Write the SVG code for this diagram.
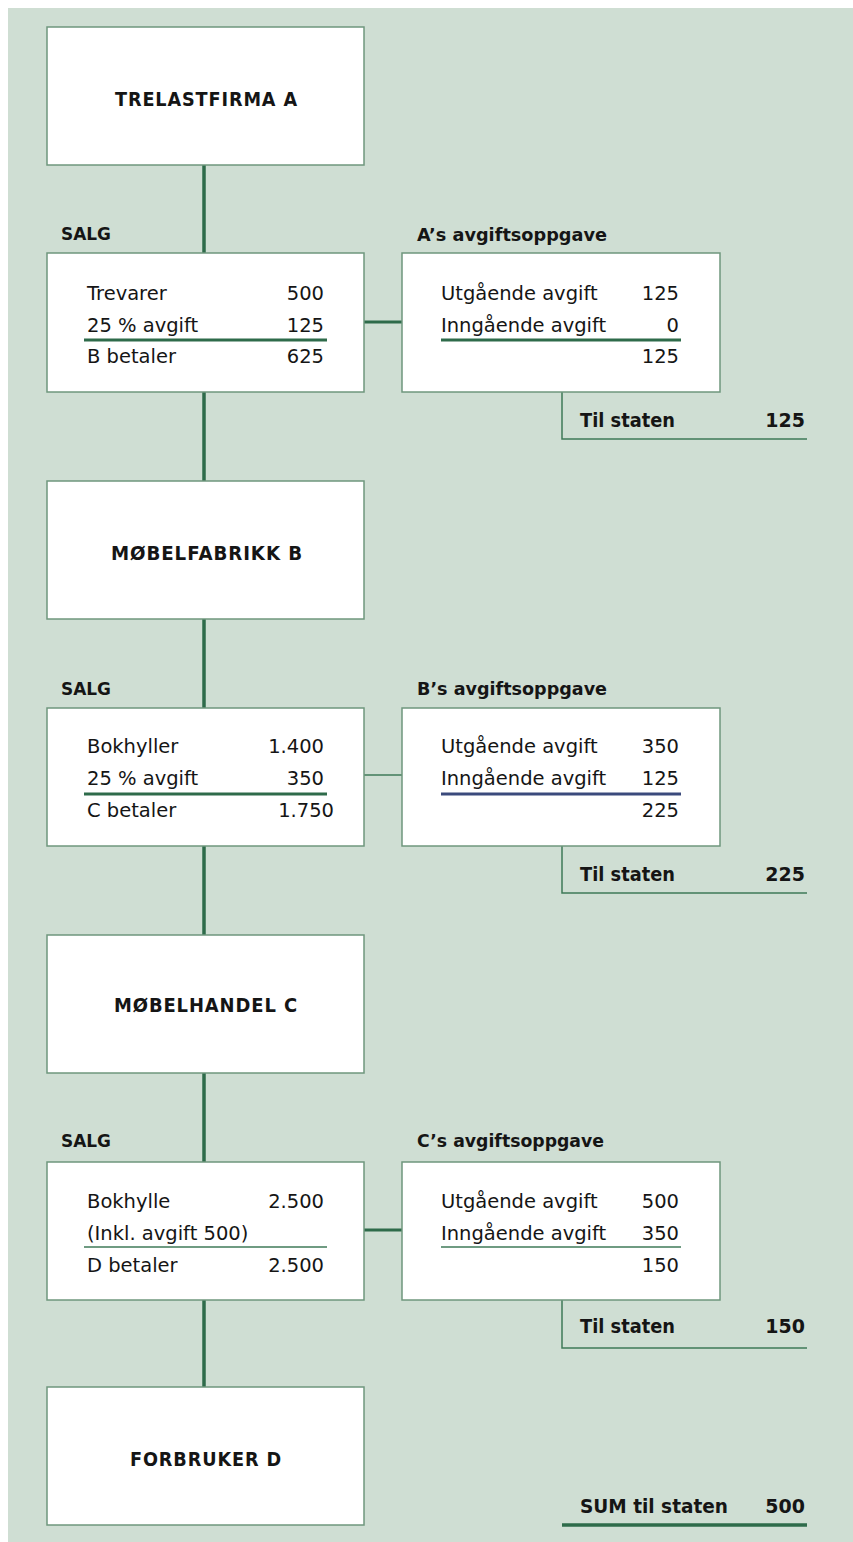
<svg xmlns="http://www.w3.org/2000/svg" width="853" height="1542" viewBox="0 0 853 1542">
<style>
.bg{fill:#cfded3}
.box{fill:#ffffff;stroke:#6f977d;stroke-width:1.5}
.title{font-family:"DejaVu Sans",sans-serif;font-weight:bold;font-size:20px;letter-spacing:1px;fill:#151515}
.head{font-family:"DejaVu Sans",sans-serif;font-weight:bold;font-size:18.5px;fill:#151515}
.body{font-family:"DejaVu Sans",sans-serif;font-size:19.5px;fill:#151515}
.num{font-family:"DejaVu Sans",sans-serif;font-size:19.5px;fill:#151515;text-anchor:end}
.sum{font-family:"DejaVu Sans",sans-serif;font-weight:bold;font-size:19px;fill:#151515}
.sumn{font-family:"DejaVu Sans",sans-serif;font-weight:bold;font-size:19px;fill:#151515;text-anchor:end}
.conn{stroke:#2e6b4a;stroke-width:3.5;fill:none}
.thick{stroke:#2e6b4a;stroke-width:3;fill:none}
.thin{stroke:#3f7a58;stroke-width:1.5;fill:none}
.navy{stroke:#3b4a7c;stroke-width:3;fill:none}
</style>
<rect class="bg" x="8" y="8" width="845" height="1534"/>

<g id="connectors">
<line class="conn" x1="204" y1="165" x2="204" y2="253"/>
<line class="conn" x1="204" y1="392" x2="204" y2="481"/>
<line class="conn" x1="204" y1="619" x2="204" y2="708"/>
<line class="conn" x1="204" y1="846" x2="204" y2="935"/>
<line class="conn" x1="204" y1="1073" x2="204" y2="1162"/>
<line class="conn" x1="204" y1="1300" x2="204" y2="1387"/>
<line class="thick" x1="364" y1="322" x2="402" y2="322"/>
<line class="thin" x1="364" y1="775" x2="402" y2="775"/>
<line class="thick" x1="364" y1="1230" x2="402" y2="1230"/>
<polyline class="thin" points="562,392 562,439 807,439"/>
<polyline class="thin" points="562,846 562,893 807,893"/>
<polyline class="thin" points="562,1300 562,1348 807,1348"/>
</g>

<g id="firma-a">
<rect class="box" x="47" y="27" width="317" height="138"/>
<text class="title" x="115" y="106" textLength="183" lengthAdjust="spacingAndGlyphs">TRELASTFIRMA A</text>
</g>

<g id="salg-a">
<text class="head" x="61" y="240" textLength="50" lengthAdjust="spacingAndGlyphs">SALG</text>
<rect class="box" x="47" y="253" width="317" height="139"/>
<text class="body" x="87" y="300">Trevarer</text>
<text class="num" x="324" y="300">500</text>
<text class="body" x="87" y="332">25 % avgift</text>
<text class="num" x="324" y="332">125</text>
<line class="thick" x1="84" y1="340" x2="327" y2="340"/>
<text class="body" x="87" y="363">B betaler</text>
<text class="num" x="324" y="363">625</text>
</g>

<g id="oppgave-a">
<text class="head" x="417" y="241" textLength="190" lengthAdjust="spacingAndGlyphs">A’s avgiftsoppgave</text>
<rect class="box" x="402" y="253" width="318" height="139"/>
<text class="body" x="441" y="300">Utgående avgift</text>
<text class="num" x="679" y="300">125</text>
<text class="body" x="441" y="332">Inngående avgift</text>
<text class="num" x="679" y="332">0</text>
<line class="thick" x1="441" y1="340" x2="681" y2="340"/>
<text class="num" x="679" y="363">125</text>
<text class="sum" x="580" y="427" textLength="95" lengthAdjust="spacingAndGlyphs">Til staten</text>
<text class="sumn" x="805" y="427">125</text>
</g>

<g id="firma-b">
<rect class="box" x="47" y="481" width="317" height="138"/>
<text class="title" x="111" y="560" textLength="192" lengthAdjust="spacingAndGlyphs">MØBELFABRIKK B</text>
</g>

<g id="salg-b">
<text class="head" x="61" y="695" textLength="50" lengthAdjust="spacingAndGlyphs">SALG</text>
<rect class="box" x="47" y="708" width="317" height="138"/>
<text class="body" x="87" y="753">Bokhyller</text>
<text class="num" x="324" y="753">1.400</text>
<text class="body" x="87" y="785">25 % avgift</text>
<text class="num" x="324" y="785">350</text>
<line class="thick" x1="84" y1="794" x2="327" y2="794"/>
<text class="body" x="87" y="817">C betaler</text>
<text class="num" x="334" y="817">1.750</text>
</g>

<g id="oppgave-b">
<text class="head" x="417" y="695" textLength="190" lengthAdjust="spacingAndGlyphs">B’s avgiftsoppgave</text>
<rect class="box" x="402" y="708" width="318" height="138"/>
<text class="body" x="441" y="753">Utgående avgift</text>
<text class="num" x="679" y="753">350</text>
<text class="body" x="441" y="785">Inngående avgift</text>
<text class="num" x="679" y="785">125</text>
<line class="navy" x1="441" y1="794" x2="681" y2="794"/>
<text class="num" x="679" y="817">225</text>
<text class="sum" x="580" y="881" textLength="95" lengthAdjust="spacingAndGlyphs">Til staten</text>
<text class="sumn" x="805" y="881">225</text>
</g>

<g id="handel-c">
<rect class="box" x="47" y="935" width="317" height="138"/>
<text class="title" x="114" y="1012" textLength="184" lengthAdjust="spacingAndGlyphs">MØBELHANDEL C</text>
</g>

<g id="salg-c">
<text class="head" x="61" y="1147" textLength="50" lengthAdjust="spacingAndGlyphs">SALG</text>
<rect class="box" x="47" y="1162" width="317" height="138"/>
<text class="body" x="87" y="1208">Bokhylle</text>
<text class="num" x="324" y="1208">2.500</text>
<text class="body" x="87" y="1240">(Inkl. avgift 500)</text>
<line class="thin" x1="84" y1="1247" x2="327" y2="1247"/>
<text class="body" x="87" y="1272">D betaler</text>
<text class="num" x="324" y="1272">2.500</text>
</g>

<g id="oppgave-c">
<text class="head" x="417" y="1147" textLength="187" lengthAdjust="spacingAndGlyphs">C’s avgiftsoppgave</text>
<rect class="box" x="402" y="1162" width="318" height="138"/>
<text class="body" x="441" y="1208">Utgående avgift</text>
<text class="num" x="679" y="1208">500</text>
<text class="body" x="441" y="1240">Inngående avgift</text>
<text class="num" x="679" y="1240">350</text>
<line class="thin" x1="441" y1="1247" x2="681" y2="1247"/>
<text class="num" x="679" y="1272">150</text>
<text class="sum" x="580" y="1333" textLength="95" lengthAdjust="spacingAndGlyphs">Til staten</text>
<text class="sumn" x="805" y="1333">150</text>
</g>

<g id="forbruker-d">
<rect class="box" x="47" y="1387" width="317" height="138"/>
<text class="title" x="130" y="1466" textLength="152" lengthAdjust="spacingAndGlyphs">FORBRUKER D</text>
</g>

<g id="sum">
<text class="sum" x="580" y="1513" textLength="148" lengthAdjust="spacingAndGlyphs">SUM til staten</text>
<text class="sumn" x="805" y="1513">500</text>
<line class="thick" x1="562" y1="1525" x2="807" y2="1525" style="stroke-width:3.5"/>
</g>
</svg>
